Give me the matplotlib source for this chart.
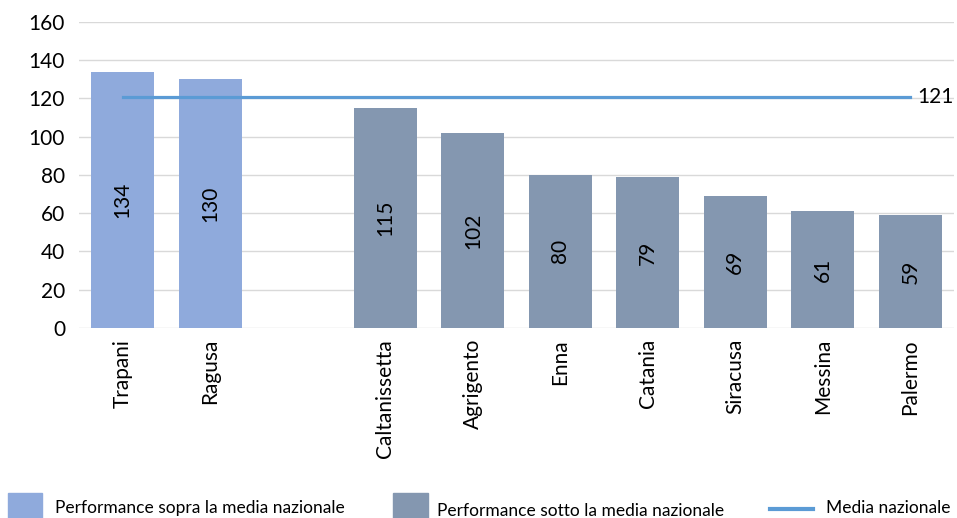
import matplotlib.pyplot as plt
from matplotlib.patches import Rectangle
from matplotlib.lines import Line2D

plt.rcParams['font.family'] = ['Lato', 'DejaVu Sans']

# provinces above and below the national average
sopra_nomi = ['Trapani', 'Ragusa']
sopra_valori = [134, 130]
sotto_nomi = ['Caltanissetta', 'Agrigento', 'Enna', 'Catania', 'Siracusa', 'Messina', 'Palermo']
sotto_valori = [115, 102, 80, 79, 69, 61, 59]
media_nazionale = 121

col_sopra = '#8FAADC'
col_sotto = '#8497B0'
col_media = '#5B9BD5'

fig = plt.figure(figsize=(9.57, 5.18), dpi=100)
ax = fig.add_axes([0.0825, 0.367, 0.9145, 0.5905])

x_sopra = list(range(len(sopra_nomi)))
x_sotto = [i + len(sopra_nomi) + 1 for i in range(len(sotto_nomi))]

b1 = ax.bar(x_sopra, sopra_valori, width=0.72, color=col_sopra, zorder=2)
b2 = ax.bar(x_sotto, sotto_valori, width=0.72, color=col_sotto, zorder=2)

# value labels inside the bars, rotated
for bars in (b1, b2):
    for b in bars:
        h = b.get_height()
        ax.text(b.get_x() + b.get_width() / 2, h / 2, f'{h:.0f}', rotation=90,
                ha='center', va='center', fontsize=15, color='black', zorder=3)

# national average line
ax.plot([x_sopra[0], x_sotto[-1]], [media_nazionale, media_nazionale],
        color=col_media, lw=2.3, zorder=4)
ax.text(x_sotto[-1] + 0.08, media_nazionale, f'{media_nazionale}', ha='left', va='center',
        fontsize=15)

ax.set_xlim(-0.5, x_sotto[-1] + 0.5)
ax.set_ylim(0, 160)
ax.set_yticks(range(0, 161, 20))
ax.set_xticks(x_sopra + x_sotto)
ax.set_xticklabels(sopra_nomi + sotto_nomi, rotation=90, fontsize=15)
ax.tick_params(axis='y', labelsize=15, length=0, pad=10)
ax.tick_params(axis='x', length=0, pad=8)
ax.grid(axis='y', color='#D9D9D9', lw=1, zorder=0)
for s in ax.spines.values():
    s.set_visible(False)

# legend at the bottom
W, H = 957, 518
def fx(px):
    return px / W
def fy(py):
    return 1 - py / H

fig.add_artist(Rectangle((fx(8), fy(520)), fx(34), 27 / H, transform=fig.transFigure,
                         color=col_sopra))
fig.text(fx(55), fy(508), 'Performance sopra la media nazionale', fontsize=12.5, va='center')
fig.add_artist(Rectangle((fx(393), fy(520)), fx(35), 27 / H, transform=fig.transFigure,
                         color=col_sotto))
fig.text(fx(437), fy(511), 'Performance sotto la media nazionale', fontsize=12.5, va='center')
fig.add_artist(Line2D([fx(770), fx(813)], [fy(509), fy(509)], transform=fig.transFigure,
                      color=col_media, lw=3))
fig.text(fx(826), fy(508), 'Media nazionale', fontsize=12.5, va='center')

fig.savefig('out.png', dpi=100)
